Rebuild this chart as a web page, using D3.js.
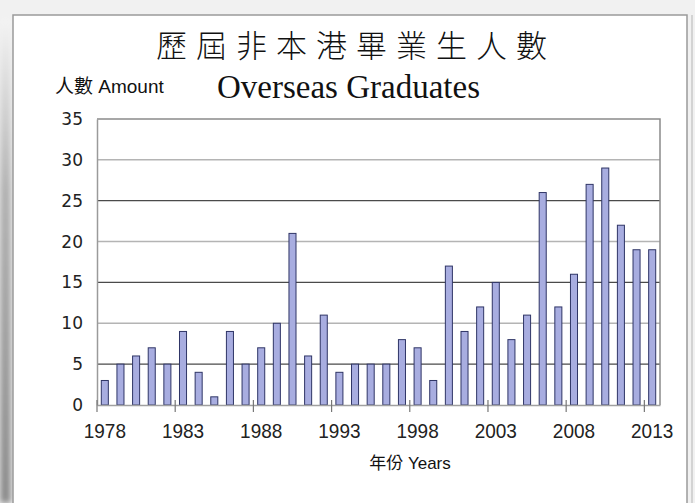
<!DOCTYPE html>
<meta charset="utf-8">
<style>
body { margin: 0; background: #f1f1f1; }
svg { display: block; }
</style>
<svg width="695" height="503"></svg>
<script src="https://cdn.jsdelivr.net/npm/d3@7/dist/d3.min.js"></script>
<script>

var years = d3.range(1978, 2014)
var counts = [3, 5, 6, 7, 5, 9, 4, 1, 9, 5,
              7, 10, 21, 6, 11, 4, 5, 5, 5, 8,
              7, 3, 17, 9, 12, 15, 8, 11, 26, 12,
              16, 27, 29, 22, 19, 19]
var labelYears = [1978, 1983, 1988, 1993, 1998, 2003, 2008, 2013]
var yTicks = [0, 5, 10, 15, 20, 25, 30, 35]

var svg = d3.select("svg")

// page frame + shadow
var defs = svg.append("defs")
var grad = defs.append("linearGradient")
  .attr("id", "side").attr("x1", 0).attr("y1", 0).attr("x2", 0).attr("y2", 1)
grad.append("stop").attr("offset", "0%").attr("stop-color", "#f4f4f4")
grad.append("stop").attr("offset", "35%").attr("stop-color", "#b0b0b0")
grad.append("stop").attr("offset", "100%").attr("stop-color", "#888")
defs.append("filter").attr("id", "blur").attr("x", "-20%").attr("width", "140%")
  .append("feGaussianBlur").attr("stdDeviation", 3)

svg.append("rect").attr("x", 0).attr("y", 20).attr("width", 11).attr("height", 483)
  .attr("fill", "url(#side)").attr("filter", "url(#blur)")
svg.append("rect").attr("x", 13).attr("y", 15).attr("width", 674).attr("height", 500)
  .attr("fill", "#fff").attr("stroke", "#9a9a9a").attr("stroke-width", 1.5)
svg.append("line").attr("x1", 692).attr("x2", 692).attr("y1", 15).attr("y2", 503)
  .attr("stroke", "#c8c8c8").attr("stroke-width", 1.5)

var plot = {left: 97, right: 660, top: 119, bottom: 405}

var x = d3.scaleBand()
  .domain(years)
  .range([plot.left, plot.right])
  .paddingInner(0.55)
  .paddingOuter(0.275)

var y = d3.scaleLinear()
  .domain([0, 35])
  .range([plot.bottom, plot.top])

// gridlines, alternating shades like the source
svg.append("g")
  .selectAll("line")
  .data(yTicks.filter(function(d){ return d > 0 && d < 35 }))
  .enter().append("line")
    .attr("x1", plot.left).attr("x2", plot.right)
    .attr("y1", function(d){ return y(d) }).attr("y2", function(d){ return y(d) })
    .attr("stroke", function(d){ return d % 10 ? "#4a4a4a" : "#b4b4b4" })
    .attr("stroke-width", function(d){ return d % 10 ? 1.2 : 1.5 })

// plot border top/right
svg.append("path")
  .attr("d", "M" + plot.left + "," + y(35) + "H" + plot.right + "V" + plot.bottom)
  .attr("fill", "none").attr("stroke", "#8a8a8a").attr("stroke-width", 1.5)

// bars
svg.append("g")
  .selectAll("rect")
  .data(counts)
  .enter().append("rect")
    .attr("x", function(d, i){ return x(years[i]) })
    .attr("y", function(d){ return y(d) })
    .attr("width", x.bandwidth())
    .attr("height", function(d){ return y(0) - y(d) })
    .attr("fill", "#a8ade0")
    .attr("stroke", "#2f3566")
    .attr("stroke-width", 1)

// y axis
var yAxis = svg.append("g")
  .attr("transform", "translate(" + plot.left + ",0)")
  .call(d3.axisLeft(y).tickValues(yTicks).tickSize(0).tickPadding(14))
yAxis.select(".domain").attr("stroke", "#9a9a9a").attr("stroke-width", 1.5)
yAxis.selectAll("text")
  .attr("font-family", "DejaVu Sans, sans-serif")
  .attr("font-size", 17)
  .attr("fill", "#222")

// x axis
var xAxis = svg.append("g")
  .attr("transform", "translate(0," + plot.bottom + ")")
  .call(d3.axisBottom(x).tickValues(labelYears).tickSize(0).tickPadding(0))
xAxis.select(".domain").attr("stroke", "#a0a0a0").attr("stroke-width", 1.5)
xAxis.selectAll("text")
  .attr("font-family", "Liberation Sans, Arial, sans-serif")
  .attr("font-size", 19)
  .attr("fill", "#222")
  .attr("y", 0).attr("dy", null)
  .attr("transform", "translate(0,33) scale(1,1.1)")

// tick marks on category boundaries
var gap = x.step() - x.bandwidth()
svg.append("g")
  .selectAll("line")
  .data(labelYears)
  .enter().append("line")
    .attr("x1", function(d){ return x(d) - gap / 2 })
    .attr("x2", function(d){ return x(d) - gap / 2 })
    .attr("y1", plot.bottom - 5)
    .attr("y2", plot.bottom + 7)
    .attr("stroke", "#777")
    .attr("stroke-width", 1.2)

// titles
svg.append("text")
  .attr("x", 156).attr("y", 57)
  .attr("font-family", "Noto Sans CJK TC, sans-serif")
  .attr("font-weight", 300)
  .attr("font-size", 31)
  .attr("letter-spacing", 9)
  .attr("fill", "#111")
  .text("歷屆非本港畢業生人數")

svg.append("text")
  .attr("x", 217).attr("y", 98)
  .attr("font-family", "Liberation Serif, Times New Roman, serif")
  .attr("font-size", 33)
  .attr("fill", "#111")
  .text("Overseas Graduates")

svg.append("text")
  .attr("x", 55).attr("y", 93)
  .attr("font-family", "Liberation Sans, Noto Sans CJK TC, sans-serif")
  .attr("font-size", 19)
  .attr("fill", "#111")
  .text("人數 Amount")

svg.append("text")
  .attr("x", 410).attr("y", 469)
  .attr("text-anchor", "middle")
  .attr("font-family", "Liberation Sans, Noto Sans CJK TC, sans-serif")
  .attr("font-size", 17)
  .attr("fill", "#111")
  .text("年份 Years")

</script>
